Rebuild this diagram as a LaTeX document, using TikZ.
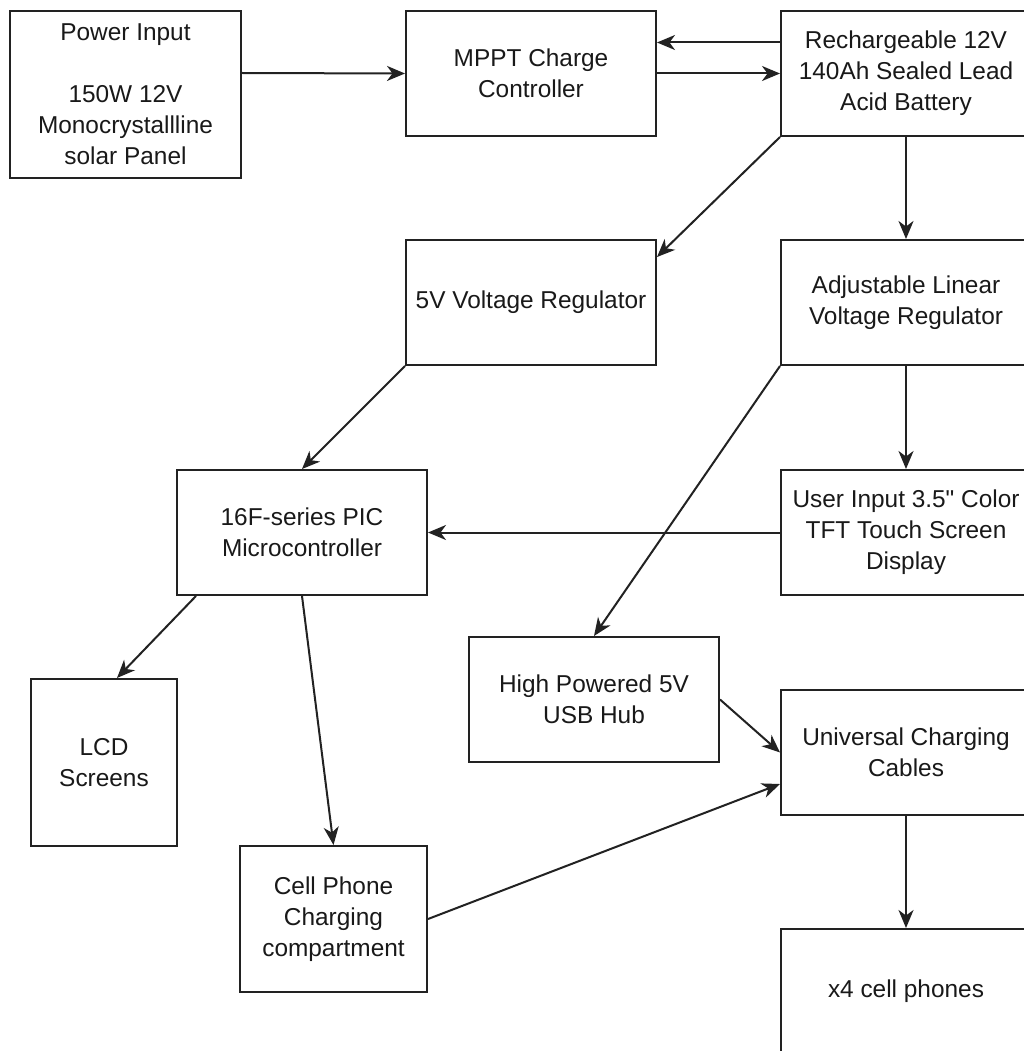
\documentclass[tikz,border=0pt]{standalone}
\usepackage{fontspec}
\setmainfont{Liberation Sans}
\newfontfamily\plainq{Liberation Sans}
\usetikzlibrary{arrows.meta}
\definecolor{linec}{HTML}{222222}
\tikzset{
  blk/.style={draw=linec, line width=2pt, fill=white, inner sep=0pt, align=center,
    font=\fontsize{24.4}{31}\selectfont, text=black!90},
  wbox/.style={blk, minimum width=250pt, minimum height=125pt},
  conn/.style={draw=linec, line width=2pt, -{Stealth[length=18pt,width=15pt,inset=5.5pt]}}
}
\begin{document}
\begin{tikzpicture}[x=1pt,y=-1pt]
\useasboundingbox (0,0) rectangle (1024,1051);
\clip (0,0) rectangle (1024,1051);
\fill[white] (0,0) rectangle (1024,1051);
\node[blk, minimum width=231pt, minimum height=167pt] (pwr) at (125.5,94.5) {Power Input\\\mbox{}\\150W 12V\\Monocrystallline\\solar Panel};
\node[wbox] (mppt) at (531,73.5) {MPPT Charge\\Controller};
\node[wbox] (bat) at (906,73.5) {Rechargeable 12V\\140Ah Sealed Lead\\Acid Battery};
\node[wbox] (reg5) at (531,302.5) {5V Voltage Regulator};
\node[wbox] (adj) at (906,302.5) {Adjustable Linear\\Voltage Regulator};
\node[wbox] (pic) at (302,532.5) {16F-series PIC\\Microcontroller};
\node[wbox] (ui) at (906,532.5) {User Input 3.5{\plainq"} Color\\TFT Touch Screen\\Display};
\node[wbox] (usb) at (594,699.5) {High Powered 5V\\USB Hub};
\node[blk, minimum width=146pt, minimum height=167pt] (lcd) at (104,762.5) {LCD\\Screens};
\node[wbox] (univ) at (906,752.5) {Universal Charging\\Cables};
\node[blk, minimum width=187pt, minimum height=146pt] (cell) at (333.5,919) {Cell Phone\\Charging\\compartment};
\node[wbox] (x4) at (906,991.5) {x4 cell phones};

\draw[conn] ([yshift=21.5pt]pwr.east) -- (mppt.west);
\draw[conn] ([yshift=31pt]bat.west) -- ([yshift=31pt]mppt.east);
\draw[conn] (mppt.east) -- (bat.west);
\draw[conn] (bat.south west) -- ([yshift=-18pt]reg5.north east);
\draw[conn] (bat.south) -- (adj.north);
\draw[conn] (reg5.south west) -- (pic.north);
\draw[conn] (adj.south) -- (ui.north);
\draw[conn] (adj.south west) -- (usb.north);
\draw[conn] (ui.west) -- (pic.east);
\draw[conn] ([xshift=20pt]pic.south west) -- ([xshift=13pt]lcd.north);
\draw[conn] (pic.south) -- (cell.north);
\draw[conn] (usb.east) -- (univ.west);
\draw[conn] (cell.east) -- ([yshift=-31.5pt]univ.west);
\draw[conn] (univ.south) -- (x4.north);
\end{tikzpicture}
\end{document}
